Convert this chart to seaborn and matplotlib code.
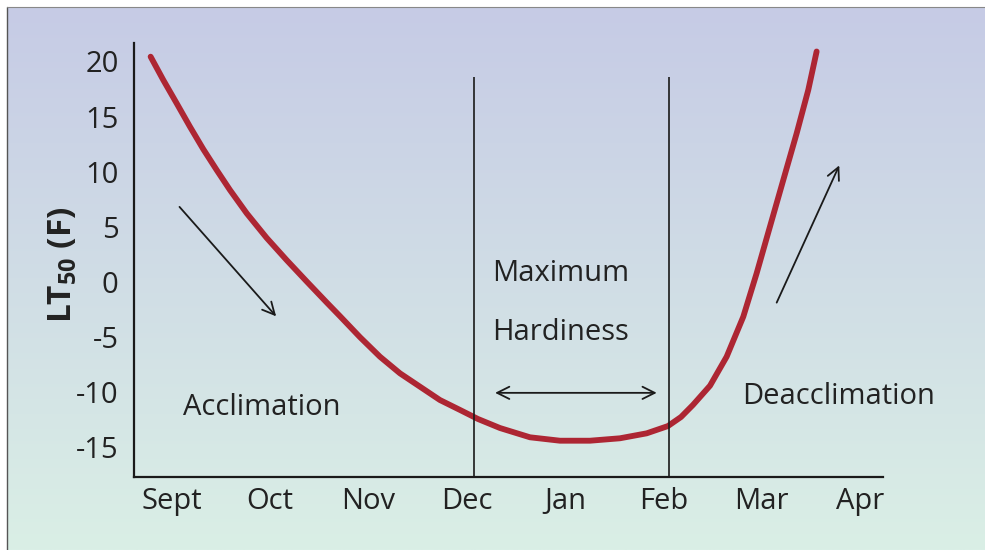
import numpy as np
import pandas as pd
import seaborn as sns
import matplotlib.pyplot as plt

# months on the x axis (position = index)
months = ["Sept", "Oct", "Nov", "Dec", "Jan", "Feb", "Mar", "Apr"]
y_ticks = [20, 15, 10, 5, 0, -5, -10, -15]

# LT50 curve (x in month units, Sept = 0)
curve_x = [-0.215, -0.086, 0.050, 0.185, 0.320, 0.457, 0.592, 0.762, 0.965,
           1.168, 1.372, 1.575, 1.711, 1.914, 2.117, 2.321, 2.524, 2.727,
           2.931, 3.114, 3.338, 3.643, 3.948, 4.253, 4.558, 4.830, 5.046,
           5.179, 5.300, 5.474, 5.643, 5.812, 5.948, 6.083, 6.219, 6.355,
           6.473, 6.558]
curve_y = [20.43, 18.31, 16.20, 14.08, 12.05, 10.15, 8.34, 6.23, 4.00,
           1.99, 0.05, -1.85, -3.10, -5.00, -6.77, -8.28, -9.49, -10.70,
           -11.60, -12.42, -13.24, -14.08, -14.39, -14.39, -14.17, -13.72, -13.06,
           -12.24, -11.15, -9.40, -6.77, -3.15, 0.79, 5.01, 9.25, 13.48,
           17.41, 20.90]

# period boundaries (Dec / Feb)
bounds = [3.07, 5.06]

df = pd.DataFrame({"month": curve_x, "lt50": curve_y})

sns.set_style("white")
plt.rcParams["font.family"] = ["Open Sans", "DejaVu Sans"]
plt.rcParams["mathtext.fontset"] = "custom"
plt.rcParams["mathtext.rm"] = "Open Sans"
plt.rcParams["mathtext.bf"] = "Open Sans:bold"

fig = plt.figure(figsize=(9.85, 5.5), dpi=100, facecolor="white")

# scanned-paper background: lavender at top fading to mint at bottom
bg = fig.add_axes([7 / 985, 0, 1 - 7 / 985, 1 - 7 / 550], zorder=0)
top = np.array([198, 203, 229]) / 255
bot = np.array([218, 239, 230]) / 255
t = np.linspace(0, 1, 256)[:, None, None]
grad = top * (1 - t) + bot * t
bg.imshow(np.repeat(grad, 2, axis=1), aspect="auto", extent=[0, 1, 0, 1])
bg.set_axis_off()
fig.add_artist(plt.Line2D([7 / 985, 7 / 985], [0, 1 - 7 / 550], color="#555", lw=1))
fig.add_artist(plt.Line2D([7 / 985, 1], [1 - 7 / 550, 1 - 7 / 550], color="#888", lw=0.8))

ax = fig.add_axes([134 / 985, 1 - 477 / 550, (883 - 134) / 985, (477 - 43) / 550], zorder=1)
ax.patch.set_alpha(0)

sns.lineplot(data=df, x="month", y="lt50", ax=ax, color="#ad2633", lw=4.2,
             solid_capstyle="round", solid_joinstyle="round", sort=False)

ax.vlines(bounds, -17.7, 18.6, color="#1a1a1a", lw=1.2)

ax.set_xlim(-0.384, 7.233)
ax.set_ylim(-17.68, 21.67)
ax.set_xticks(range(len(months)))
ax.set_xticklabels(months)
ax.set_yticks(y_ticks)
ax.set_yticklabels([str(v) for v in y_ticks])
ax.tick_params(length=0, labelsize=21, colors="#222")
ax.tick_params(axis="y", pad=11)
ax.tick_params(axis="x", pad=7)
for s in ["top", "right"]:
    ax.spines[s].set_visible(False)
for s in ["left", "bottom"]:
    ax.spines[s].set_color("#1a1a1a")
    ax.spines[s].set_linewidth(1.6)

ax.set_xlabel("")
ax.set_ylabel(r"$\mathbf{LT}_{\mathbf{50}}$ (F)", fontsize=24, fontweight="bold", color="#222")
ax.yaxis.set_label_coords(-0.073, 0.49)

# arrows
arr = dict(arrowstyle="->", color="#1a1a1a", lw=1.3, mutation_scale=22)
ax.annotate("", xy=(1.08, -3.3), xytext=(0.06, 7.0), arrowprops=arr)
ax.annotate("", xy=(6.80, 10.8), xytext=(6.14, -2.1), arrowprops=arr)
ax.annotate("", xy=(4.96, -10.05), xytext=(3.26, -10.05),
            arrowprops=dict(arrowstyle="<->", color="#1a1a1a", lw=1.3, mutation_scale=22))

# labels
tk = dict(fontsize=21, color="#222", va="baseline", ha="left", fontweight=500)
ax.text(0.114, -12.06, "Acclimation", **tk)
ax.text(3.256, 0.09, "Maximum", **tk)
ax.text(3.256, -5.26, "Hardiness", **tk)
ax.text(5.80, -11.06, "Deacclimation", **tk)

plt.savefig("out.png", dpi=100, facecolor=fig.get_facecolor())
